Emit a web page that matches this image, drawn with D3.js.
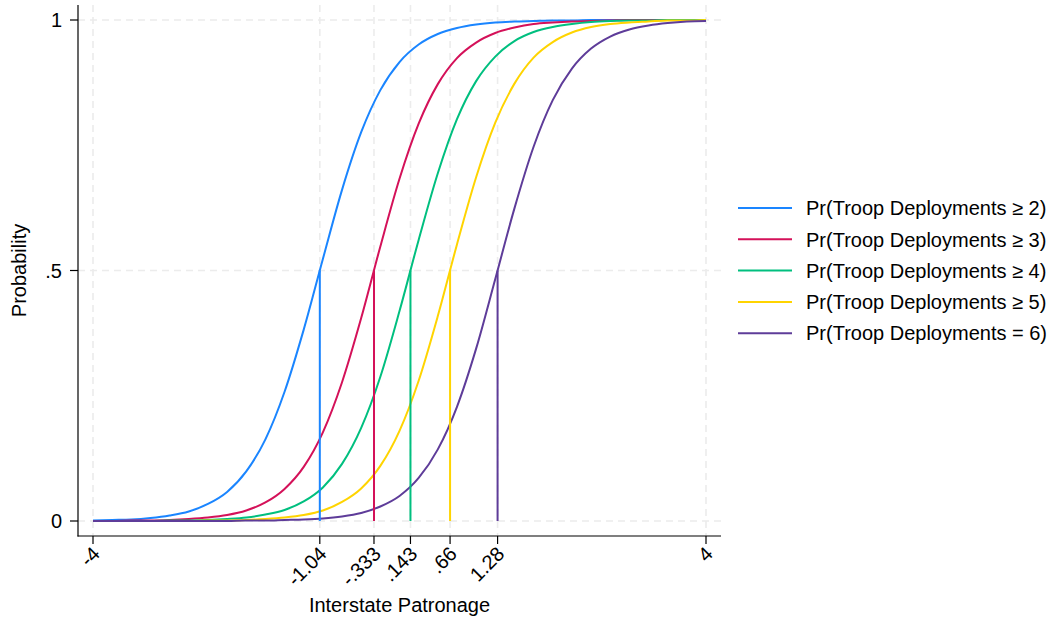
<!DOCTYPE html>
<html>
<head>
<meta charset="utf-8">
<script src="https://cdn.jsdelivr.net/npm/d3@7"></script>
<style>
  html, body { margin: 0; padding: 0; background: #fff; }
  svg { display: block; }
  text { font-family: "Liberation Sans", Arial, Helvetica, sans-serif; fill: #000; }
</style>
</head>
<body>
<svg id="chart" width="1054" height="630"></svg>
<script>
// Evaluation grid on the patronage axis
const xGrid = [-4, -3.75, -3.5, -3.25, -3, -2.75, -2.5, -2.25, -2, -1.75, -1.5, -1.25,
  -1, -0.75, -0.5, -0.25, 0, 0.25, 0.5, 0.75, 1, 1.25, 1.5, 1.75,
  2, 2.25, 2.5, 2.75, 3, 3.25, 3.5, 3.75, 4];

// Predicted cumulative probabilities, one array per outcome threshold
const prGe2 = [0.001, 0.002, 0.003, 0.006, 0.011, 0.019, 0.034, 0.058, 0.099, 0.163, 0.258, 0.382,
  0.523, 0.661, 0.776, 0.860, 0.916, 0.951, 0.972, 0.984, 0.991, 0.995, 0.997, 0.998,
  0.999, 0.999, 1.000, 1.000, 1.000, 1.000, 1.000, 1.000, 1.000];
const prGe3 = [0.000, 0.000, 0.001, 0.001, 0.002, 0.004, 0.007, 0.012, 0.021, 0.037, 0.064, 0.108,
  0.177, 0.277, 0.405, 0.548, 0.683, 0.793, 0.872, 0.924, 0.955, 0.974, 0.985, 0.992,
  0.995, 0.997, 0.998, 0.999, 1.000, 1.000, 1.000, 1.000, 1.000];
const prGe4 = [0.000, 0.000, 0.000, 0.000, 0.001, 0.001, 0.002, 0.004, 0.007, 0.013, 0.022, 0.039,
  0.067, 0.114, 0.186, 0.288, 0.419, 0.561, 0.694, 0.802, 0.878, 0.927, 0.958, 0.976,
  0.986, 0.992, 0.996, 0.998, 0.999, 0.999, 1.000, 1.000, 1.000];
const prGe5 = [0.000, 0.000, 0.000, 0.000, 0.000, 0.000, 0.001, 0.001, 0.002, 0.004, 0.007, 0.012,
  0.021, 0.038, 0.065, 0.110, 0.180, 0.280, 0.409, 0.552, 0.686, 0.795, 0.873, 0.925,
  0.956, 0.975, 0.986, 0.992, 0.995, 0.997, 0.999, 0.999, 1.000];
const prEq6 = [0.000, 0.000, 0.000, 0.000, 0.000, 0.000, 0.000, 0.000, 0.001, 0.001, 0.002, 0.003,
  0.005, 0.009, 0.016, 0.029, 0.050, 0.086, 0.143, 0.228, 0.344, 0.483, 0.624, 0.747,
  0.840, 0.903, 0.943, 0.967, 0.981, 0.989, 0.994, 0.997, 0.998];

// Cut points where each curve crosses one half
const cutpoints = [-1.04, -0.333, 0.143, 0.66, 1.28];
const midProbability = 0.5;

const seriesNames = [
  "Pr(Troop Deployments \u2265 2)",
  "Pr(Troop Deployments \u2265 3)",
  "Pr(Troop Deployments \u2265 4)",
  "Pr(Troop Deployments \u2265 5)",
  "Pr(Troop Deployments = 6)"
];
const seriesColors = ["#1a85ff", "#d41159", "#00bf7f", "#ffd400", "#5e3c99"];

// Axis ticks
const xTickValues = [-4, -1.04, -0.333, 0.143, 0.66, 1.28, 4];
const xTickLabels = ["-4", "-1.04", "-.333", ".143", ".66", "1.28", "4"];
const yTickValues = [0, 0.5, 1];
const yTickLabels = ["0", ".5", "1"];

const xTitle = "Interstate Patronage";
const yTitle = "Probability";

const seriesValues = [prGe2, prGe3, prGe4, prGe5, prEq6];

// ---- layout ----
const svg = d3.select("#chart");
const plot = { left: 93, right: 706, top: 20, bottom: 521 };
const pad = 15; // gap between data region and axis lines

const x = d3.scaleLinear().domain([-4, 4]).range([plot.left, plot.right]);
const y = d3.scaleLinear().domain([0, 1]).range([plot.bottom, plot.top]);

const axisLeftX = plot.left - pad;
const axisBottomY = plot.bottom + pad;
const axisRightX = plot.right + pad;
const axisTopY = plot.top - pad;

svg.append("rect").attr("width", 1054).attr("height", 630).attr("fill", "#fff");

// gridlines
const grid = svg.append("g")
  .attr("stroke", "#ececec")
  .attr("stroke-width", 1.6)
  .attr("stroke-dasharray", "7,5");
grid.selectAll("line.gx").data(xTickValues).join("line")
  .attr("class", "gx")
  .attr("x1", d => x(d)).attr("x2", d => x(d))
  .attr("y1", axisTopY).attr("y2", axisBottomY);
grid.selectAll("line.gy").data(yTickValues).join("line")
  .attr("class", "gy")
  .attr("x1", axisLeftX).attr("x2", axisRightX)
  .attr("y1", d => y(d)).attr("y2", d => y(d));

// curves
const line = d3.line()
  .x((d, i) => x(xGrid[i]))
  .y(d => y(d))
  .curve(d3.curveMonotoneX);

svg.append("g").selectAll("path").data(seriesValues).join("path")
  .attr("d", d => line(d))
  .attr("fill", "none")
  .attr("stroke", (d, i) => seriesColors[i])
  .attr("stroke-width", 2);

// drop lines at the cut points
svg.append("g").selectAll("line").data(cutpoints).join("line")
  .attr("x1", d => x(d)).attr("x2", d => x(d))
  .attr("y1", y(0)).attr("y2", y(midProbability))
  .attr("stroke", (d, i) => seriesColors[i])
  .attr("stroke-width", 2);

// y axis
const yAxis = svg.append("g").attr("transform", `translate(${axisLeftX},0)`);
yAxis.append("line")
  .attr("x1", 0).attr("x2", 0)
  .attr("y1", axisTopY).attr("y2", axisBottomY + 0.5)
  .attr("stroke", "#000").attr("stroke-width", 1.2);
yAxis.selectAll("line.tick").data(yTickValues).join("line")
  .attr("class", "tick")
  .attr("x1", -8).attr("x2", 0)
  .attr("y1", d => y(d)).attr("y2", d => y(d))
  .attr("stroke", "#000").attr("stroke-width", 1.2);
yAxis.selectAll("text").data(yTickValues).join("text")
  .attr("x", -16)
  .attr("y", d => y(d))
  .attr("dy", "0.36em")
  .attr("text-anchor", "end")
  .attr("font-size", 20)
  .text((d, i) => yTickLabels[i]);

// x axis
const xAxis = svg.append("g").attr("transform", `translate(0,${axisBottomY})`);
xAxis.append("line")
  .attr("x1", axisLeftX - 0.5).attr("x2", axisRightX)
  .attr("y1", 0).attr("y2", 0)
  .attr("stroke", "#000").attr("stroke-width", 1.2);
xAxis.selectAll("line.tick").data(xTickValues).join("line")
  .attr("class", "tick")
  .attr("x1", d => x(d)).attr("x2", d => x(d))
  .attr("y1", 0).attr("y2", 8)
  .attr("stroke", "#000").attr("stroke-width", 1.2);
xAxis.selectAll("text").data(xTickValues).join("text")
  .attr("transform", d => `translate(${x(d) + 3},${14}) rotate(-45)`)
  .attr("dy", "0.36em")
  .attr("text-anchor", "end")
  .attr("font-size", 20)
  .text((d, i) => xTickLabels[i]);

// axis titles
svg.append("text")
  .attr("x", (plot.left + plot.right) / 2)
  .attr("y", 612)
  .attr("text-anchor", "middle")
  .attr("font-size", 20)
  .text(xTitle);
svg.append("text")
  .attr("transform", `translate(26,${(plot.top + plot.bottom) / 2}) rotate(-90)`)
  .attr("text-anchor", "middle")
  .attr("font-size", 20)
  .text(yTitle);

// legend
const legend = svg.append("g").attr("transform", "translate(738,208)");
const rowGap = 31.3;
const rows = legend.selectAll("g").data(seriesNames).join("g")
  .attr("transform", (d, i) => `translate(0,${i * rowGap})`);
rows.append("line")
  .attr("x1", 0).attr("x2", 54)
  .attr("y1", 0).attr("y2", 0)
  .attr("stroke", (d, i) => seriesColors[i])
  .attr("stroke-width", 2);
rows.append("text")
  .attr("x", 68)
  .attr("y", 0)
  .attr("dy", "0.36em")
  .attr("font-size", 20)
  .text(d => d);
</script>
</body>
</html>
